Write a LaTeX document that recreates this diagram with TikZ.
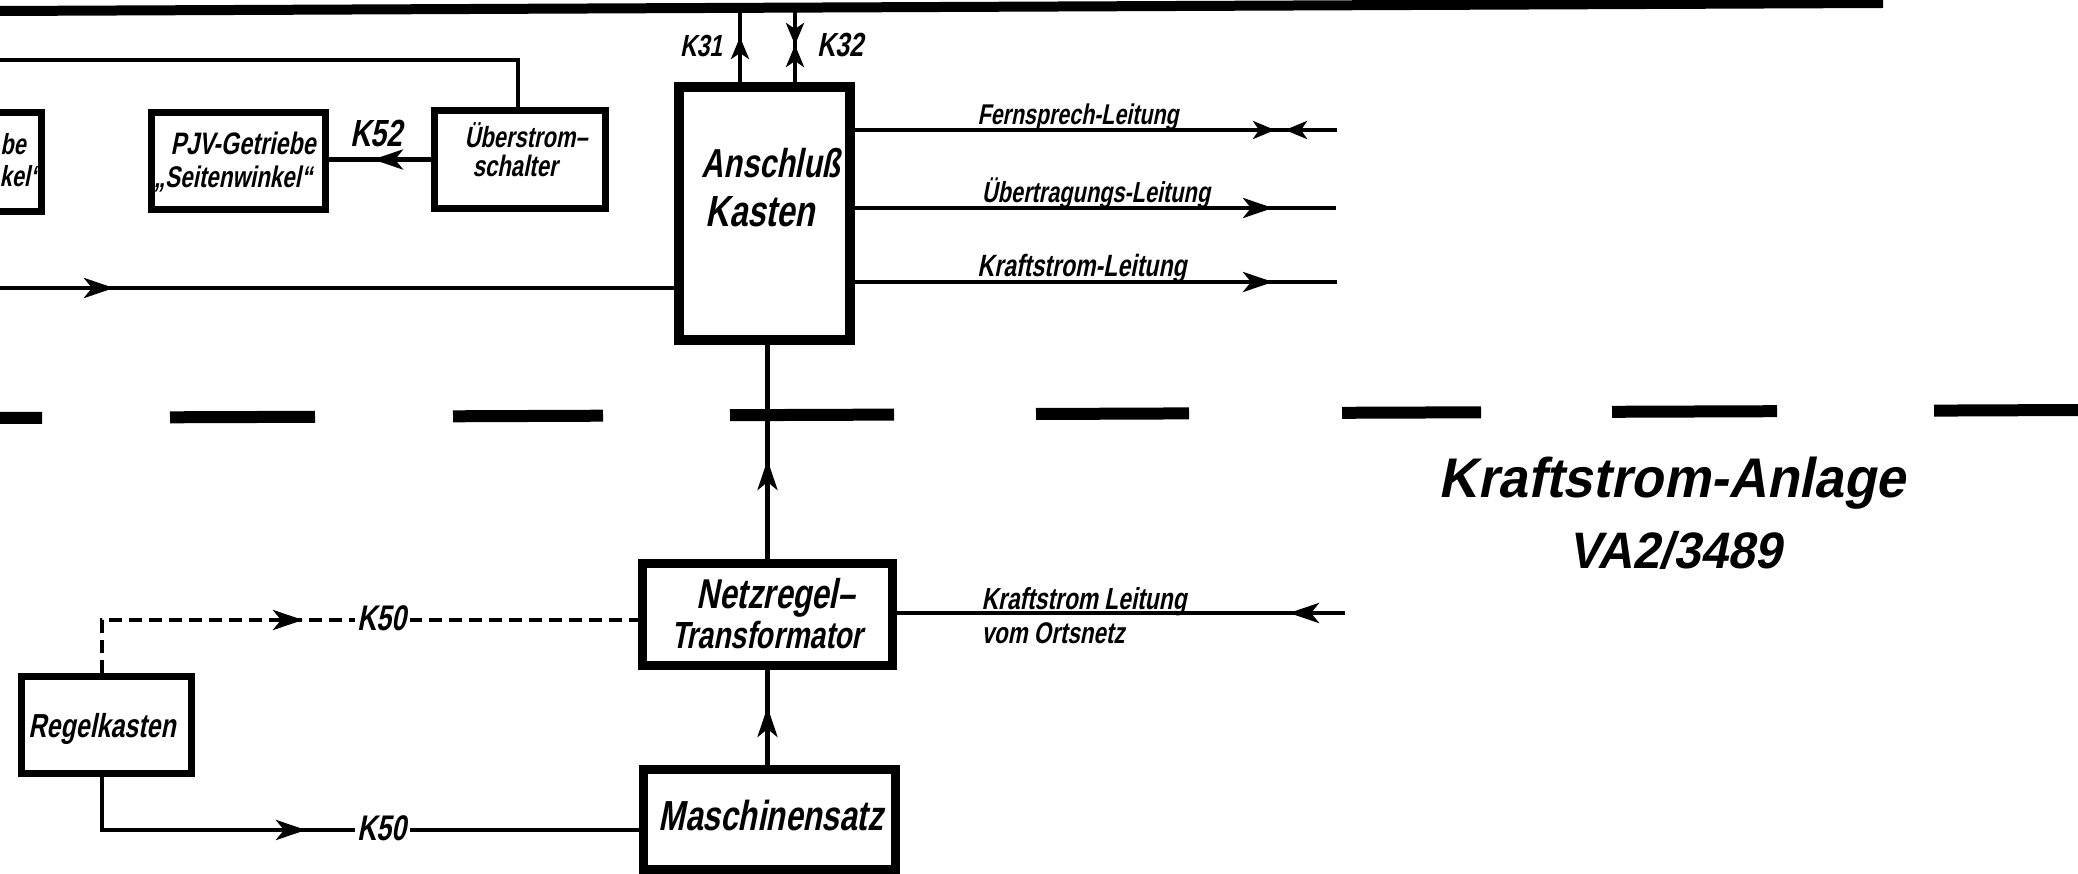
\documentclass[tikz,border=0pt]{standalone}
\usepackage{fontspec}
\usepackage{graphicx}
\setmainfont{Liberation Sans}
\newfontfamily\din[FakeSlant=0.2,FakeStretch=0.75]{Liberation Sans}
\newfontfamily\ttl[FakeSlant=0.2,FakeStretch=0.95]{Liberation Sans}
\usetikzlibrary{arrows.meta,decorations.markings}
\newcommand{\fitw}[2]{\resizebox{#1pt}{!}{#2}}
\tikzset{
  box/.style={draw, line width=#1, inner sep=0pt, rectangle},
  conn/.style={line width=4.5pt},
  dconn/.style={line width=4.5pt, dash pattern=on 13pt off 7pt},
  lbl/.style={anchor=base, inner sep=0pt, font=\din\bfseries},
  lblr/.style={anchor=base, inner sep=0pt, font=\din\bfseries},
  kfill/.style={anchor=base, inner xsep=3pt, inner ysep=2pt, fill=white, font=\din\bfseries},
  tipat/.style={postaction={decorate,decoration={markings,mark=at position #1 with {\pgfsetdash{}{0pt}\arrow{Stealth[length=30pt,width=20pt,inset=8pt]}}}}},
  smtip/.style={postaction={decorate,decoration={markings,mark=at position #1 with {\pgfsetdash{}{0pt}\arrow{Stealth[length=22pt,width=18pt,inset=6pt]}}}}},
  smrev/.style={postaction={decorate,decoration={markings,mark=at position #1 with {\pgfsetdash{}{0pt}\arrowreversed{Stealth[length=22pt,width=18pt,inset=6pt]}}}}},
}
\begin{document}
\begin{tikzpicture}[x=1pt,y=-1pt]
\useasboundingbox (0,0) rectangle (2078,874);
\clip (0,0) rectangle (2078,874);
\fill[white] (0,0) rectangle (2078,874);

% top bus line
\coordinate (busL) at (0,11);
\coordinate (busR) at (1883,3);
\draw[line width=10pt] (busL) -- (busR);

% separator (thick dashes)
\draw[line width=12pt]
  (0,418) -- (42,418)
  (170,417.3) -- (315,416.8)
  (453,416.3) -- (603,415.7)
  (730,415.2) -- (894,414.6)
  (1036,414) -- (1189,413.4)
  (1342,412.8) -- (1481,412.3)
  (1612,411.8) -- (1777,411.2)
  (1934,410.6) -- (2078,410);

% boxes
\node[box=7pt, minimum width=91.5pt, minimum height=99pt] (leftbox) at (-4.25,162) {};
\node[box=7pt, minimum width=174pt, minimum height=97pt] (pjv) at (238.5,161) {};
\node[box=7pt, minimum width=171pt, minimum height=98pt] (ueber) at (520,159.5) {};
\node[box=10pt, minimum width=171pt, minimum height=253pt] (ansch) at (764.5,213.5) {};
\node[box=9pt, minimum width=250pt, minimum height=102pt] (netz) at (767.5,614.5) {};
\node[box=9pt, minimum width=252pt, minimum height=100pt] (masch) at (769.5,819.5) {};
\node[box=7pt, minimum width=170pt, minimum height=97pt] (regel) at (106.5,725) {};

% box texts
\node[lbl, anchor=base east] (lb1) at (26,155) {\fontsize{29}{29}\selectfont be};
\node[lbl, anchor=base east] (lb2) at (41,187) {\fontsize{29}{29}\selectfont kel“};
\node[lbl] (pjv1) at (243,155) {\fitw{145}{PJV-Getriebe}};
\node[lbl] (pjv2) at (233,188) {\fitw{158}{„Seitenwinkel“}};
\node[lblr] (ue1) at (526,148) {\fitw{123}{Überstrom–}};
\node[lblr] (ue2) at (515,177) {\fitw{85}{schalter}};
\node[lblr] (an1) at (771,178) {\fitw{138}{Anschluß}};
\node[lblr] (an2) at (760,227) {\fitw{109}{Kasten}};
\node[lblr] (nz1) at (776,608) {\fitw{158}{Netzregel–}};
\node[lblr] (nz2) at (767,648) {\fitw{192}{Transformator}};
\node[lblr] (ma1) at (771,830) {\fitw{224}{Maschinensatz}};
\node[lbl] (rg1) at (102,737) {\fitw{147}{Regelkasten}};

% connector labels
\node[lbl] (k52) at (376,147) {\fitw{52}{K52}};
\node[lbl] (k31) at (701,57) {\fitw{42}{K31}};
\node[lbl] (k32) at (840,57) {\fitw{46}{K32}};
\node[lbl] (fern) at (1078,125) {\fitw{201}{Fernsprech-Leitung}};
\node[lbl] (uebl) at (1096,203) {\fitw{228}{Übertragungs-Leitung}};
\node[lbl] (kraftl) at (1082,277) {\fitw{209}{Kraftstrom-Leitung}};
\node[lbl] (ort1) at (1084,609) {\fitw{205}{Kraftstrom Leitung}};
\node[lbl] (ort2) at (1053,643) {\fitw{143}{vom Ortsnetz}};

% title
\node[anchor=base, inner sep=0pt, font=\ttl\bfseries] (title1) at (1672,497) {\fitw{466}{Kraftstrom-Anlage}};
\node[anchor=base, inner sep=0pt, font=\ttl\bfseries] (title2) at (1675,568) {\fitw{213}{VA2/3489}};

% coordinates for free ends
\coordinate (k31top) at (740,8);
\coordinate (k32top) at (795,7);
\coordinate (fernend) at (1337,130);
\coordinate (ueblend) at (1336,208);
\coordinate (kraftend) at (1337,282);
\coordinate (instart) at (0,288);
\coordinate (fbstart) at (0,60);
\coordinate (fbcorner) at (518,60);
\coordinate (dcorner) at (102,620);
\coordinate (scorner) at (102,830);
\coordinate (ortend) at (1345,613);

% connectors
\draw[conn, smtip=45pt] (ansch.north -| k31top) -- (k31top);
\draw[conn, smtip=38pt, smrev=38pt] (k32top) -- (ansch.north -| k32top);
\draw[conn, smtip=420pt, smrev=430pt] (ansch.east |- fernend) -- (fernend);
\draw[conn, tipat=418pt] (ansch.east |- ueblend) -- (ueblend);
\draw[conn, tipat=418pt] (ansch.east |- kraftend) -- (kraftend);
\draw[conn, tipat=114pt] (instart) -- (instart -| ansch.west);
\draw[conn] (fbstart) -- (fbcorner) -- (fbcorner |- ueber.north);
\draw[conn, tipat=58pt] (ueber.west) -- (ueber.west -| pjv.east);
\draw[conn, tipat=99pt] (netz.north) -- (netz.north |- ansch.south);
\draw[conn, tipat=58pt] (netz.south |- masch.north) -- (netz.south);
\draw[dconn, tipat=254pt] (regel.north -| dcorner) -- (dcorner) -- (dcorner -| netz.west);
\draw[conn, tipat=257pt] (regel.south -| scorner) -- (scorner) -- (scorner -| masch.west);
\draw[conn, tipat=56pt] (ortend) -- (ortend -| netz.east);

\node[kfill] (k50a) at (382,630) {\fitw{49}{K50}};
\node[kfill] (k50b) at (382,840) {\fitw{49}{K50}};
\end{tikzpicture}
\end{document}
